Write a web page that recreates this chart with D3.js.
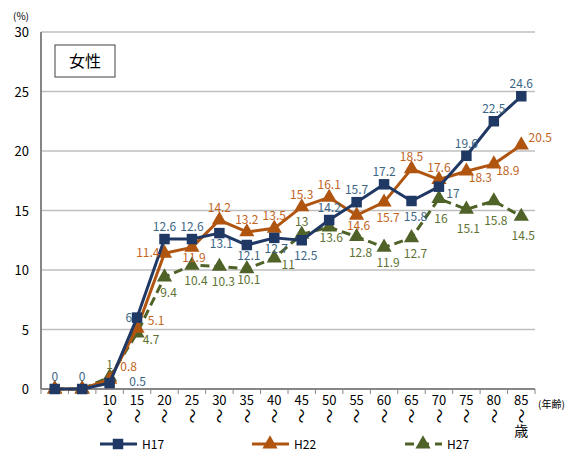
<!DOCTYPE html>
<html><head><meta charset="utf-8">
<script src="https://cdn.jsdelivr.net/npm/d3@7"></script>
<style>body{margin:0;background:#fff}svg{display:block}text{font-family:"Noto Sans CJK JP","Noto Sans",sans-serif}</style>
</head><body><svg id="c" width="573" height="455"></svg>
<script>
const categories = ["0","5","10","15","20","25","30","35","40","45","50","55","60","65","70","75","80","85"];
const tickLabels = ["","","10","15","20","25","30","35","40","45","50","55","60","65","70","75","80","85"];
const h17 = [0,0,0.5,6,12.6,12.6,13.1,12.1,12.7,12.5,14.2,15.7,17.2,15.8,17,19.6,22.5,24.6];
const h22 = [0,0,0.8,5.1,11.4,11.9,14.2,13.2,13.5,15.3,16.1,14.6,15.7,18.5,17.6,18.3,18.9,20.5];
const h27 = [0,0,1,4.7,9.4,10.4,10.3,10.1,11,13,13.6,12.8,11.9,12.7,16,15.1,15.8,14.5];
const yTicks = [0,5,10,15,20,25,30];
// label placement codes (see placement table below); n = no label
const pos17 = ["t","t","rr","l","t","t","b","b","b","bb","t","t","t","bb","rb","t","t","t"];
const pos22 = ["n","n","ru","r","l","b","t","t","t","t","t","b","bb","t","t","rb","rb","r"];
const pos27 = ["n","n","t","rb","bb","bb","bb","b","rb","t","b","bb","bb","bb","bbb","bbb","bbb","bbb"];

const placement = {
  t:{dx:0,dy:-8,a:"middle"}, b:{dx:2,dy:15,a:"middle"}, bb:{dx:4,dy:20,a:"middle"},
  bbb:{dx:2,dy:24,a:"middle"}, l:{dx:-5,dy:4,a:"end"}, r:{dx:19,dy:-3,a:"middle"},
  ru:{dx:19,dy:-8,a:"middle"}, rr:{dx:28,dy:3,a:"middle"}, rb:{dx:14,dy:11,a:"middle"}
};

const svg = d3.select("#c");
const L=41, R=535, T=32, B=389;
const x = d3.scaleBand().domain(categories).range([L,R]);
const y = d3.scaleLinear().domain([0,30]).range([B,T]);
const cx = c => x(c)+x.bandwidth()/2;

svg.append("g").selectAll("line").data(yTicks.filter(d=>d>0)).join("line")
  .attr("x1",L).attr("x2",R).attr("y1",d=>y(d)).attr("y2",d=>y(d))
  .attr("stroke","#bfbfbf").attr("stroke-width",1.5);
svg.append("line").attr("x1",L).attr("x2",L).attr("y1",T).attr("y2",B).attr("stroke","#868686").attr("stroke-width",2);
svg.append("g").selectAll("text").data(yTicks).join("text")
  .attr("x",29).attr("y",d=>y(d)+5).attr("text-anchor","end").attr("font-size",13).attr("fill","#000").text(d=>d);
svg.append("text").attr("x",13).attr("y",20).attr("font-size",10).text("(%)");
svg.append("line").attr("x1",L).attr("x2",R).attr("y1",B).attr("y2",B).attr("stroke","#868686").attr("stroke-width",2);
const bounds = categories.map(c=>x(c)).concat([R]);
svg.append("g").selectAll("line").data(bounds).join("line")
  .attr("x1",d=>d).attr("x2",d=>d).attr("y1",B).attr("y2",B+5).attr("stroke","#868686").attr("stroke-width",1);
const xl = svg.append("g");
categories.forEach((c,i)=>{
  if(!tickLabels[i]) return;
  xl.append("text").attr("x",cx(c)).attr("y",405).attr("text-anchor","middle").attr("font-size",13).text(tickLabels[i]);
  xl.append("text").attr("transform",`translate(${cx(c)},${416}) rotate(90)`).attr("text-anchor","middle").attr("dy","0.35em").attr("font-size",15).text("〜");
});
svg.append("text").attr("x",cx("85")).attr("y",436).attr("text-anchor","middle").attr("font-size",14).text("歳");
svg.append("text").attr("x",538).attr("y",408).attr("font-size",10).text("(年齢)");

svg.append("rect").attr("x",55).attr("y",45).attr("width",60).attr("height",32).attr("fill","#fff").attr("stroke","#404040").attr("stroke-width",1);
svg.append("text").attr("x",85).attr("y",67).attr("text-anchor","middle").attr("font-size",16).text("女性");

const series = [
  {name:"H17", vals:h17, pos:pos17, line:"#203864", lab:"#3b6585", marker:"square", dash:null},
  {name:"H22", vals:h22, pos:pos22, line:"#b05510", lab:"#c2641f", marker:"tri", dash:null},
  {name:"H27", vals:h27, pos:pos27, line:"#4f6228", lab:"#5d7233", marker:"tri", dash:"9,5"},
];
const lineGen = d3.line().x((d,i)=>cx(categories[i])).y(d=>y(d));
const sq = d3.symbol().type(d3.symbolSquare).size(110);
const tr = d3.symbol().type(d3.symbolTriangle).size(100);

function drawMarker(g,s,px,py){
  g.append("path").attr("d",(s.marker==="square"?sq:tr)()).attr("transform",`translate(${px},${py})`).attr("fill",s.line);
}
series.slice().reverse().forEach(s=>{
  const g = svg.append("g");
  g.append("path").datum(s.vals).attr("d",lineGen).attr("fill","none").attr("stroke",s.line)
    .attr("stroke-width",3).attr("stroke-dasharray",s.dash).attr("stroke-linejoin","round");
  s.vals.forEach((v,i)=>drawMarker(g,s,cx(categories[i]),y(v)));
});
series.forEach(s=>{
  const g = svg.append("g");
  s.vals.forEach((v,i)=>{
    const p=placement[s.pos[i]]; if(!p) return;
    g.append("text").attr("x",cx(categories[i])+p.dx).attr("y",y(v)+p.dy).attr("text-anchor",p.a)
      .attr("font-size",12).attr("fill",s.lab).text(v);
  });
});
const legX=[100,252,405];
series.forEach((s,i)=>{
  const g=svg.append("g");
  g.append("line").attr("x1",legX[i]).attr("x2",legX[i]+37).attr("y1",444).attr("y2",444).attr("stroke",s.line).attr("stroke-width",3).attr("stroke-dasharray",s.dash?"9,6":null);
  drawMarker(g,s,legX[i]+18,444);
  g.append("text").attr("x",legX[i]+42).attr("y",449).attr("font-size",12).text(s.name);
});
</script></body></html>
